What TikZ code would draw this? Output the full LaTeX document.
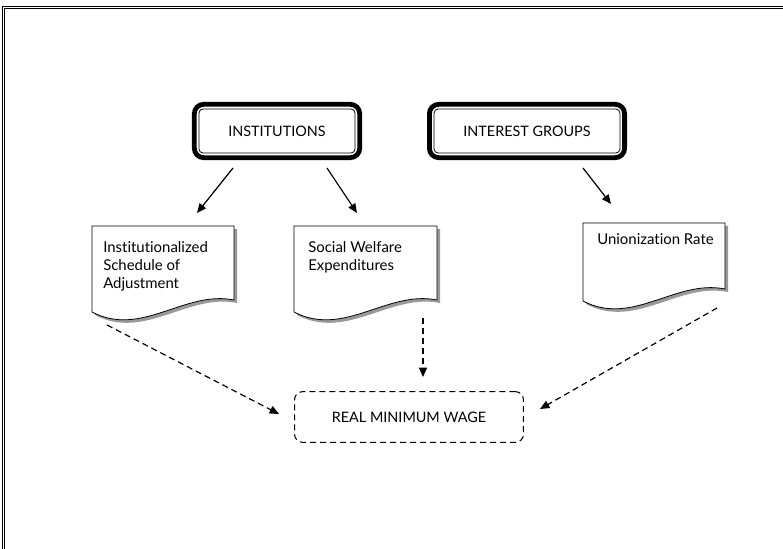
\documentclass[tikz,border=0pt]{standalone}
\usepackage{fontspec}
\setmainfont{Lato}[Ligatures=NoCommon]
\usetikzlibrary{fit,arrows.meta}

% document sheet with a wavy lower edge: left, top, right, lower-left
\newcommand{\docsheet}[4]{%
  \fill[docshadow, shift={(3,3)}] (#1,#2) -- (#3,#2) -- (#3,{#4-12})
    .. controls ({#1+0.65*(#3-#1)},{#4-22}) and ({#1+0.35*(#3-#1)},{#4+26}) .. (#1,#4) -- cycle;
  \draw[docpaper] (#1,#2) -- (#3,#2) -- (#3,{#4-12})
    .. controls ({#1+0.65*(#3-#1)},{#4-22}) and ({#1+0.35*(#3-#1)},{#4+26}) .. (#1,#4) -- cycle;}

\tikzset{
  capbox/.style={draw, rounded corners=3pt, line width=0.6pt, inner xsep=22pt,
    minimum height=33pt, font=\fontsize{10.8}{13}\selectfont},
  framebox/.style={draw, rounded corners=7pt, line width=3.6pt, inner sep=3.2pt},
  wagebox/.style={draw, dashed, dash pattern=on 4.5pt off 3pt, rounded corners=6pt,
    line width=0.8pt, inner xsep=28pt, minimum height=38pt, font=\fontsize{10.8}{13}\selectfont},
  doctext/.style={align=left, anchor=north west, inner sep=0pt,
    font=\fontsize{11.2}{13.5}\selectfont},
  docpaper/.style={draw, fill=white, line width=0.6pt},
  docshadow/.style={fill=black!40},
  solidarrow/.style={-{Triangle[length=7pt,width=6pt]}, line width=0.9pt},
  dasharrow/.style={-{Triangle[length=7pt,width=6pt]}, line width=0.9pt,
    dash pattern=on 4.5pt off 3pt}
}

\begin{document}
\begin{tikzpicture}[x=0.75pt, y=-0.75pt]
  \useasboundingbox (0,0) rectangle (783,549);
  \clip (0,0) rectangle (783,549);

  % outer frame
  \draw[double, line width=1.1pt, double distance=0.5pt] (3.5,7.5) rectangle (800,570);

  % top boxes
  \node[capbox] (inst) at (277,131) {INSTITUTIONS};
  \node[framebox, fit=(inst)] (inst-frame) {};
  \node[capbox] (groups) at (527,131) {INTEREST GROUPS};
  \node[framebox, fit=(groups)] (groups-frame) {};

  % documents
  \docsheet{92}{226}{234}{312}
  \docsheet{294}{226}{437}{312}
  \docsheet{583}{223}{725}{301}
  \node[doctext] (sched) at (103,241) {Institutionalized\\Schedule of\\Adjustment};
  \node[doctext] (welfare) at (308,241) {Social Welfare\\Expenditures};
  \node[doctext] (union) at (597,233) {Unionization Rate};

  % outcome
  \node[wagebox] (wage) at (409,417) {REAL MINIMUM WAGE};

  % arrow ends
  \coordinate (inst-l) at (233,168);
  \coordinate (inst-r) at (327,168);
  \coordinate (groups-b) at (583,168);
  \coordinate (sched-t) at (197,213);
  \coordinate (welfare-t) at (357,213);
  \coordinate (union-t) at (611,204);
  \coordinate (sched-b) at (107,325);
  \coordinate (welfare-b) at (423,318);
  \coordinate (union-b) at (717,308);
  \coordinate (wage-l) at (279,414);
  \coordinate (wage-t) at (423,377);
  \coordinate (wage-r) at (540,409);

  \draw[solidarrow] (inst-l) -- (sched-t);
  \draw[solidarrow] (inst-r) -- (welfare-t);
  \draw[solidarrow] (groups-b) -- (union-t);
  \draw[dasharrow] (sched-b) -- (wage-l);
  \draw[dasharrow] (welfare-b) -- (wage-t);
  \draw[dasharrow] (union-b) -- (wage-r);
\end{tikzpicture}
\end{document}
